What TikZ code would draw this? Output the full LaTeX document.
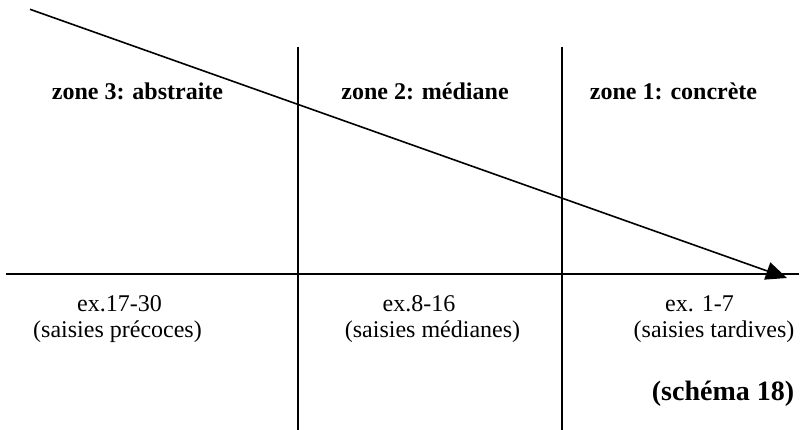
\documentclass[tikz,border=0pt]{standalone}
\usepackage{fontspec}
\setmainfont{Liberation Serif}
\usetikzlibrary{arrows.meta}
\tikzset{
  rule/.style={line width=1.6pt, black},
  zonelbl/.style={font=\fontsize{24}{28}\selectfont\bfseries, anchor=base, inner sep=0pt},
  exlbl/.style={font=\fontsize{24}{28}\selectfont, anchor=base, inner sep=0pt},
  schlbl/.style={font=\fontsize{28}{32}\selectfont\bfseries, anchor=base, inner sep=0pt},
}
\begin{document}
\begin{tikzpicture}[x=1pt,y=-1pt]
\useasboundingbox (0,0) rectangle (800,430);
% coordinates
\coordinate (hl) at (6,274);
\coordinate (hr) at (799,274);
\coordinate (v1t) at (297.7,47);
\coordinate (v1b) at (297.7,430);
\coordinate (v2t) at (562,47);
\coordinate (v2b) at (562,430);
\coordinate (ds) at (30,9.3);
\coordinate (de) at (787,278);
% lines
\draw[rule] (hl) -- (hr);
\draw[rule] (v1t) -- (v1b);
\draw[rule] (v2t) -- (v2b);
\draw[rule, -{Triangle[length=21pt,width=18pt]}] (ds) -- (de);
% labels
\node[zonelbl] (z3) at (137.5,100) {zone 3: abstraite};
\node[zonelbl] (z2) at (425,100) {zone 2: médiane};
\node[zonelbl] (z1) at (673.5,100) {zone 1: concrète};
\node[exlbl] (e3a) at (119.5,311) {ex.17-30};
\node[exlbl] (e3b) at (117.5,337) {(saisies précoces)};
\node[exlbl] (e2a) at (419,311) {ex.8-16};
\node[exlbl] (e2b) at (432.5,337) {(saisies médianes)};
\node[exlbl] (e1a) at (699.5,311) {ex. 1-7};
\node[exlbl] (e1b) at (714,337) {(saisies tardives)};
\node[schlbl] (sch) at (723,400) {(schéma 18)};
\end{tikzpicture}
\end{document}
